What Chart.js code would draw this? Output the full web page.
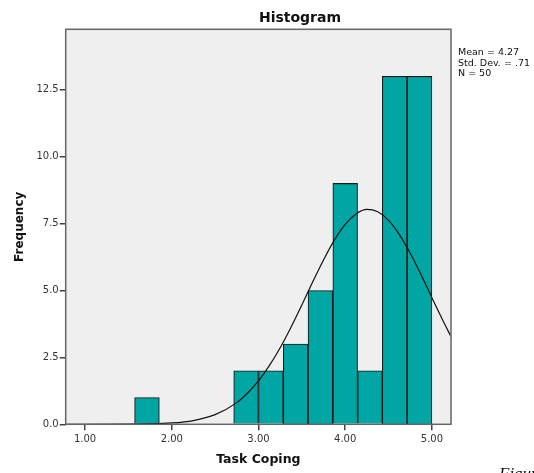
<!DOCTYPE html>
<html>
<head>
<meta charset="utf-8">
<script src="https://cdn.jsdelivr.net/npm/chart.js@4/dist/chart.umd.min.js"></script>
<style>
  html, body { margin: 0; padding: 0; background: #fff; overflow: hidden; }
  #wrap { position: relative; width: 534px; height: 473px; }
  #histChart { position: absolute; left: 0; top: 0; }
  #titulo {
    position: absolute; left: 66px; width: 468px; top: 9px;
    text-align: center; font: bold 14px "DejaVu Sans", sans-serif; line-height: 16px; color: #111;
  }
  #stats {
    position: absolute; left: 458px; top: 47px;
    font: 9.5px "DejaVu Sans", sans-serif; line-height: 10.5px; color: #111;
  }
  #pie {
    position: absolute; left: 499px; top: 464px;
    font: italic 17px "Liberation Serif", serif; color: #111;
  }
</style>
</head>
<body>
<div id="wrap">
  <canvas id="histChart" width="534" height="473"></canvas>
  <div id="titulo">Histogram</div>
  <div id="stats">Mean = 4.27<br>Std. Dev. = .71<br>N = 50</div>
  <div id="pie">Figure</div>
</div>
<script>
// bins of width 2/7 ending at 5.00 (centres)
const binCentres = [1.714, 2.857, 3.143, 3.429, 3.714, 4.000, 4.286, 4.571, 4.857];
const frequencies = [1, 2, 2, 3, 5, 9, 2, 13, 13];

// normal curve
const curveX = [0.78, 1.00, 1.50, 2.00, 2.25, 2.50, 2.75, 2.875, 3.00, 3.125, 3.25, 3.375, 3.50, 3.625,
                3.75, 3.875, 4.00, 4.125, 4.25, 4.375, 4.50, 4.625, 4.75, 4.875, 5.00, 5.125, 5.22];
const curveY = [0.00, 0.00, 0.004, 0.05, 0.14, 0.36, 0.81, 1.17, 1.62, 2.19, 2.86, 3.63, 4.46, 5.32,
                6.14, 6.88, 7.47, 7.86, 8.03, 7.94, 7.62, 7.09, 6.39, 5.59, 4.73, 3.89, 3.28];

const xTicks = [1, 2, 3, 4, 5];
const yTicks = [0, 2.5, 5, 7.5, 10, 12.5];

const tickFont = { family: 'DejaVu Sans', size: 10 };

const framePlugin = {
    id: 'marco',
    beforeDraw(chart) {
        const { ctx, chartArea: a } = chart;
        ctx.save();
        ctx.fillStyle = '#efefef';
        ctx.fillRect(a.left, a.top, a.right - a.left, a.bottom - a.top);
        ctx.restore();
    },
    afterDraw(chart) {
        const { ctx, chartArea: a } = chart;
        ctx.save();
        ctx.strokeStyle = '#666';
        ctx.lineWidth = 1.5;
        ctx.strokeRect(a.left, a.top, a.right - a.left, a.bottom - a.top);
        ctx.restore();
    }
};

const ctx = document.getElementById('histChart').getContext('2d');
new Chart(ctx, {
    data: {
        datasets: [
            {
                type: 'line',
                data: curveX.map((x, i) => ({ x: x, y: curveY[i] })),
                borderColor: '#111',
                borderWidth: 1.2,
                pointRadius: 0,
                cubicInterpolationMode: 'monotone',
                fill: false,
                order: 0
            },
            {
                type: 'bar',
                data: binCentres.map((x, i) => ({ x: x, y: frequencies[i] })),
                backgroundColor: '#00a6a4',
                borderColor: '#181818',
                borderWidth: 1.1,
                barPercentage: 1,
                categoryPercentage: 1,
                grouped: false,
                order: 1
            }
        ]
    },
    options: {
        responsive: false,
        animation: false,
        layout: { padding: { left: 0, right: 83, top: 29.3, bottom: 0 } },
        plugins: { legend: { display: false }, tooltip: { enabled: false } },
        scales: {
            x: {
                type: 'linear',
                min: 0.777,
                max: 5.22,
                offset: false,
                afterFit(scale) { scale.height = 48.7; },
                afterBuildTicks(scale) { scale.ticks = xTicks.map(v => ({ value: v })); },
                grid: { drawOnChartArea: false, drawTicks: true, tickLength: 6, color: '#444', lineWidth: 1.5, offset: false },
                border: { display: false },
                ticks: {
                    font: tickFont, color: '#333', padding: 3, maxRotation: 0,
                    callback: v => Number(v).toFixed(2)
                },
                title: {
                    display: true, text: 'Task Coping', color: '#111',
                    font: { family: 'DejaVu Sans', size: 12.5, weight: 'bold' },
                    padding: { top: 0, bottom: 5.5 }
                }
            },
            y: {
                type: 'linear',
                min: 0,
                max: 14.76,
                afterFit(scale) { scale.width = 65.7; },
                afterBuildTicks(scale) { scale.ticks = yTicks.map(v => ({ value: v })); },
                grid: { drawOnChartArea: false, drawTicks: true, tickLength: 6, color: '#444', lineWidth: 1.5 },
                border: { display: false },
                ticks: {
                    font: tickFont, color: '#333', padding: 1,
                    callback: v => Number(v).toFixed(1)
                },
                title: {
                    display: true, text: 'Frequency', color: '#111',
                    font: { family: 'DejaVu Sans', size: 12, weight: 'bold' },
                    padding: { top: 12.8, bottom: 0 }
                }
            }
        }
    },
    plugins: [framePlugin]
});
</script>
</body>
</html>
